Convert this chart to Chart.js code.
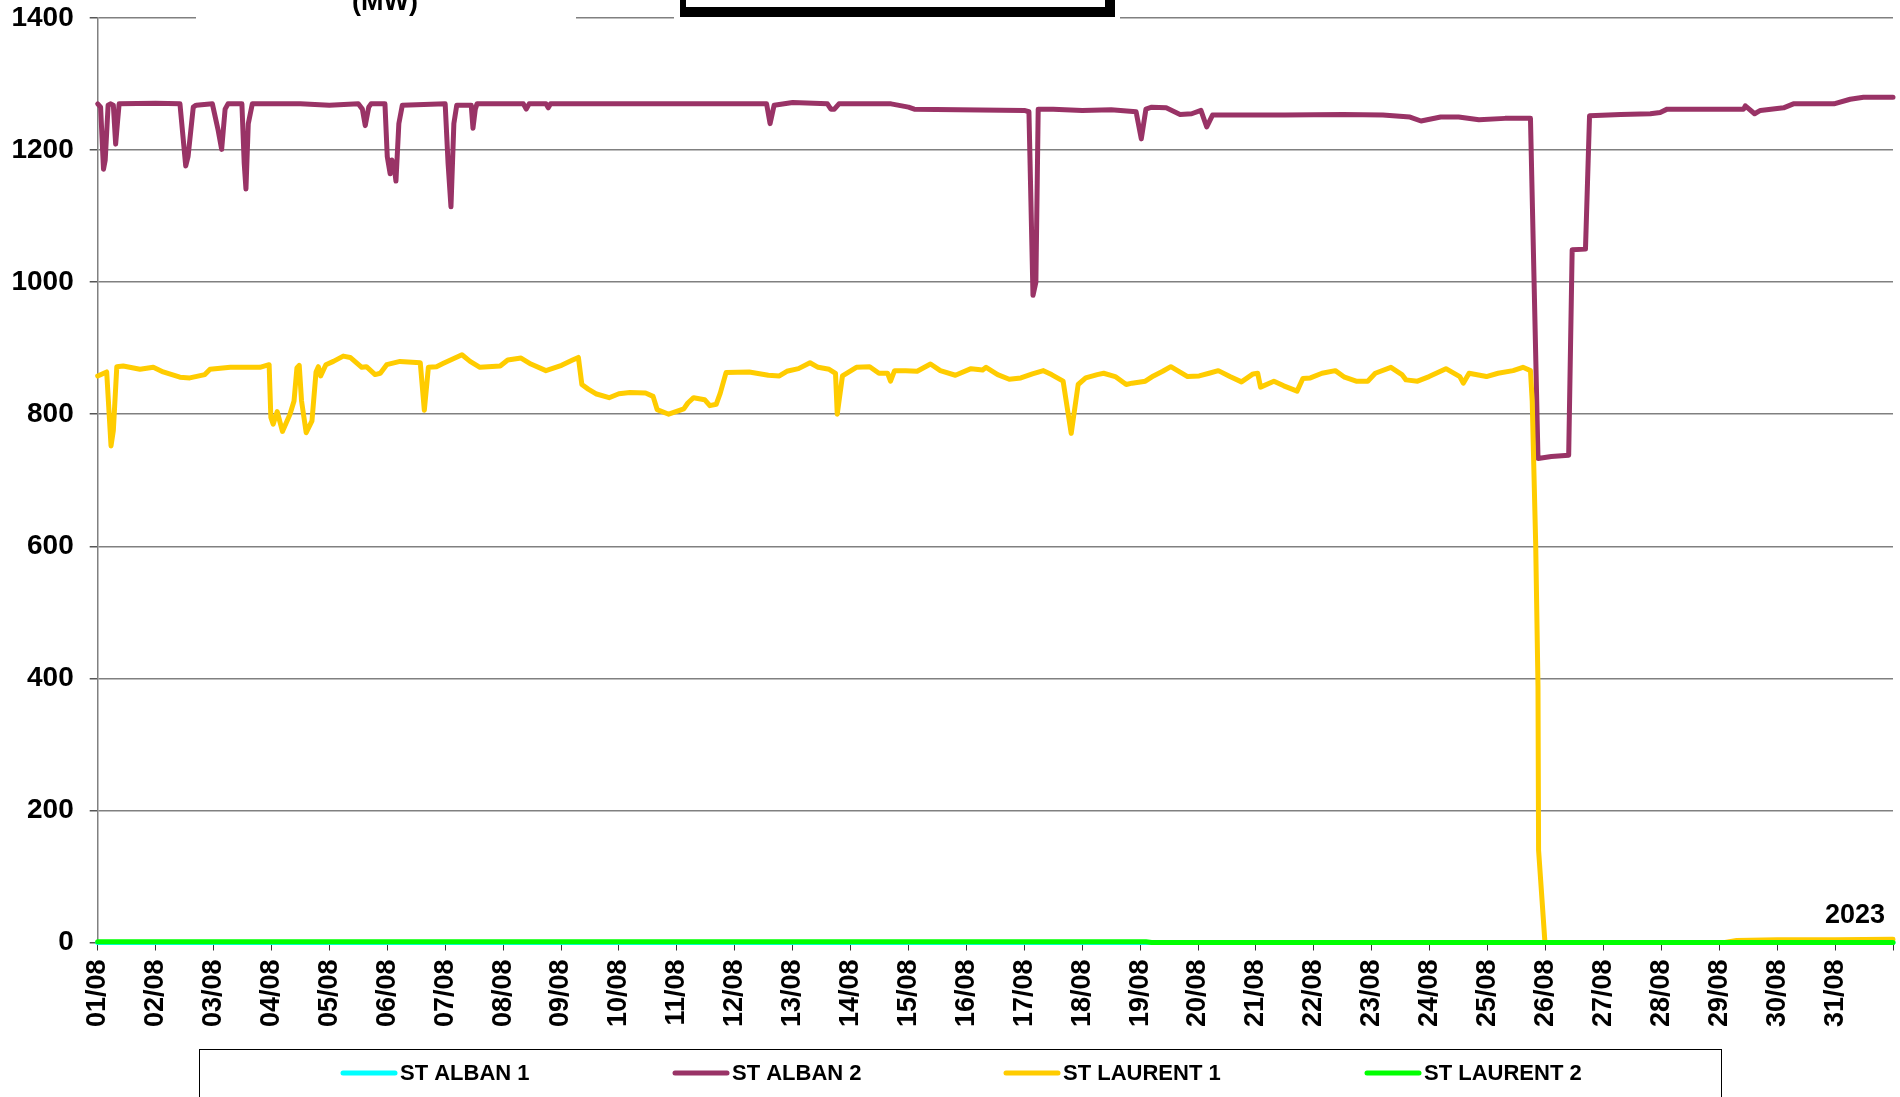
<!DOCTYPE html>
<html>
<head>
<meta charset="utf-8">
<script src="https://cdn.jsdelivr.net/npm/chart.js@4.4.1/dist/chart.umd.min.js"></script>
<style>
  body { margin: 0; background: #fff; }
  #wrap { width: 1900px; height: 1097px; position: relative; }
</style>
</head>
<body>
<div id="wrap"><canvas id="chart"></canvas></div>
<script>
// x values are days since 01/08 00:00, y values in MW
const dayLabels = [];
for (let d = 1; d <= 31; d++) dayLabels.push(String(d).padStart(2, "0") + "/08");

const alban1Days = [0, 31];
const alban1Mw = [0, 0];

const alban2Days = [0, 0.05, 0.1, 0.13, 0.18, 0.22, 0.27, 0.31, 0.34, 0.37, 1.0, 1.42, 1.52, 1.56, 1.65, 1.7, 1.98, 2.08, 2.14, 2.2, 2.25,
  2.49, 2.53, 2.56, 2.6, 2.67, 3.5, 4.0, 4.5, 4.57, 4.62, 4.68, 4.72, 4.96, 5.0, 5.05, 5.08, 5.12, 5.15, 5.2, 5.26,
  6.0, 6.05, 6.1, 6.15, 6.2, 6.45, 6.48, 6.52, 6.55, 7.35, 7.4, 7.45, 7.74, 7.78, 7.82, 11.55, 11.61, 11.68,
  12.0, 12.6, 12.66, 12.72, 12.8, 13.7, 14.0, 14.1, 16.0, 16.08, 16.15, 16.2, 16.24, 16.5, 17.0, 17.5, 17.93,
  18.02, 18.1, 18.2, 18.45, 18.69, 18.89, 19.05, 19.15, 19.25, 20.5, 21.5, 22.19, 22.66, 22.85, 23.19, 23.5,
  23.85, 24.3, 24.74, 24.87, 25.1, 25.4, 25.46, 25.69, 25.76, 26.3, 26.81, 26.98, 27.1, 28.42, 28.45, 28.61,
  28.71, 29.11, 29.28, 29.98, 30.26, 30.49, 31];
const alban2Mw = [1270, 1265, 1171, 1185, 1268, 1270, 1268, 1209, 1240, 1270, 1271, 1270, 1176, 1190, 1265, 1268, 1270, 1230, 1201, 1262, 1270,
  1270, 1180, 1141, 1240, 1270, 1270, 1268, 1270, 1262, 1237, 1265, 1270, 1270, 1190, 1164, 1185, 1175, 1153, 1240, 1268,
  1270, 1180, 1114, 1240, 1268, 1268, 1233, 1262, 1270, 1270, 1262, 1270, 1270, 1264, 1270, 1270, 1240, 1268,
  1272, 1270, 1262, 1262, 1270, 1270, 1265, 1262, 1260, 1258, 980, 1000, 1262, 1262, 1260, 1261, 1258,
  1217, 1262, 1265, 1264, 1254, 1255, 1260, 1235, 1253, 1253, 1254, 1253, 1250, 1244, 1250, 1250,
  1246, 1248, 1248, 733, 736, 738, 1049, 1050, 1252, 1254, 1255, 1257, 1262, 1262, 1267, 1255,
  1260, 1264, 1270, 1270, 1277, 1280, 1280];

const laurent1Days = [0, 0.155, 0.23, 0.27, 0.33, 0.44, 0.73, 0.96, 1.13, 1.42, 1.59, 1.85, 1.94, 2.29, 2.8, 2.96, 2.99, 3.03, 3.1, 3.19,
  3.32, 3.39, 3.44, 3.48, 3.52, 3.6, 3.7, 3.77, 3.81, 3.85, 3.94, 4.07, 4.24, 4.36, 4.56, 4.64, 4.79, 4.88, 4.99, 5.22,
  5.57, 5.64, 5.71, 5.85, 5.97, 6.14, 6.29, 6.43, 6.6, 6.95, 7.08, 7.31, 7.48, 7.74, 8.01, 8.2, 8.3, 8.36, 8.47, 8.6,
  8.83, 9.0, 9.19, 9.46, 9.59, 9.66, 9.86, 10.12, 10.19, 10.29, 10.48, 10.57, 10.68, 10.75, 10.85, 11.25, 11.58, 11.77,
  11.9, 12.1, 12.3, 12.44, 12.63, 12.74, 12.77, 12.86, 13.1, 13.33, 13.49, 13.64, 13.69, 13.76, 13.95, 14.15, 14.38,
  14.55, 14.81, 15.08, 15.28, 15.34, 15.54, 15.74, 15.94, 16.14, 16.33, 16.47, 16.67, 16.81, 16.93, 17.06, 17.26,
  17.37, 17.57, 17.76, 17.86, 18.09, 18.23, 18.39, 18.53, 18.82, 19.02, 19.19, 19.35, 19.55, 19.75, 19.95, 20.03,
  20.08, 20.31, 20.48, 20.71, 20.81, 20.94, 21.14, 21.37, 21.53, 21.73, 21.93, 22.06, 22.33, 22.52, 22.59, 22.79,
  22.99, 23.28, 23.52, 23.58, 23.68, 23.98, 24.18, 24.44, 24.61, 24.74, 24.77, 24.83, 24.87, 24.88, 24.94, 24.99,
  28.1, 28.3, 29.0, 30.0, 31];
const laurent1Mw = [858, 864, 752, 775, 872, 873, 868, 871, 864, 856, 855, 860, 868, 871, 871, 875, 795, 785, 804, 774,
  800, 820, 870, 874, 820, 772, 790, 864, 872, 858, 875, 880, 888, 886, 871, 872, 860, 862, 875, 880,
  878, 806, 871, 872, 877, 884, 890, 880, 871, 873, 882, 885, 876, 866, 874, 882, 886, 845, 838, 831,
  825, 831, 833, 832, 827, 807, 800, 808, 817, 825, 822, 813, 815, 832, 863, 864, 859, 858,
  865, 869, 878, 871, 868, 862, 800, 858, 871, 872, 862, 862, 850, 866, 866, 865, 876,
  866, 859, 869, 867, 871, 860, 853, 855, 861, 866, 860, 850, 771, 845, 855, 860,
  862, 857, 845, 847, 850, 858, 865, 872, 857, 858, 862, 866, 857, 849, 861, 862,
  841, 850, 843, 835, 854, 855, 862, 866, 856, 850, 850, 862, 871, 860, 852, 850,
  857, 869, 857, 847, 862, 857, 862, 866, 871, 866, 820, 604, 388, 140, 64, 0,
  0, 3, 4, 4, 5];

const laurent2Days = [0, 18.1, 18.2, 31];
const laurent2Mw = [1, 1, 0, 0];

function points(days, mw) {
  return days.map((d, i) => ({ x: d, y: mw[i] }));
}

const FONT = "'Liberation Sans', Arial, sans-serif";

// title remnants, year tag and boxed legend
const decorations = {
  id: "decorations",
  afterDraw(c) {
    const ctx = c.ctx;
    ctx.save();
    // title box cut at the top of the picture
    ctx.fillStyle = "#fff";
    ctx.fillRect(196, 0, 380, 23);
    ctx.fillRect(674, 0, 446, 23);
    ctx.fillStyle = "#000";
    ctx.fillRect(680, 0, 435, 17);
    ctx.fillStyle = "#fff";
    ctx.fillRect(686, 0, 419, 7);
    ctx.fillStyle = "#000";
    ctx.font = "bold 27px " + FONT;
    ctx.textAlign = "center";
    ctx.textBaseline = "alphabetic";
    ctx.fillText("(MW)", 385, 10);

    ctx.textAlign = "right";
    ctx.textBaseline = "middle";
    ctx.fillText("2023", 1885, 916);

    // legend
    ctx.strokeStyle = "#000";
    ctx.lineWidth = 1;
    ctx.strokeRect(199.5, 1049.5, 1522, 80);
    const lineX = [343, 675, 1006, 1367];
    ctx.font = "bold 22px " + FONT;
    ctx.textAlign = "left";
    c.data.datasets.forEach((ds, i) => {
      ctx.strokeStyle = ds.borderColor;
      ctx.lineWidth = 5;
      ctx.lineCap = "round";
      ctx.beginPath();
      ctx.moveTo(lineX[i], 1073);
      ctx.lineTo(lineX[i] + 52, 1073);
      ctx.stroke();
      ctx.fillStyle = "#000";
      ctx.fillText(ds.label, lineX[i] + 57, 1074);
    });
    ctx.restore();
  }
};

// order: lower value is drawn on top, so the last series ends up uppermost like in Excel
new Chart(document.querySelector("#chart"), {
  type: "line",
  data: {
    datasets: [
      { label: "ST ALBAN 1", data: points(alban1Days, alban1Mw), borderColor: "#00FFFF", order: 3 },
      { label: "ST ALBAN 2", data: points(alban2Days, alban2Mw), borderColor: "#993366", order: 2 },
      { label: "ST LAURENT 1", data: points(laurent1Days, laurent1Mw), borderColor: "#FFCC00", order: 1 },
      { label: "ST LAURENT 2", data: points(laurent2Days, laurent2Mw), borderColor: "#00FF00", order: 0 }
    ]
  },
  options: {
    responsive: true,
    maintainAspectRatio: false,
    devicePixelRatio: 1,
    animation: false,
    layout: { padding: { top: 18, right: 7, left: 0, bottom: 0 } },
    datasets: { line: { clip: false } },
    elements: {
      point: { radius: 0 },
      line: { borderWidth: 5, tension: 0, borderJoinStyle: "round", borderCapStyle: "round" }
    },
    plugins: { legend: { display: false }, tooltip: { enabled: false } },
    scales: {
      x: {
        type: "linear",
        min: 0,
        max: 31,
        afterFit: (s) => { s.height = 154.5; s.paddingLeft = 0; s.paddingRight = 0; },
        ticks: {
          stepSize: 1,
          autoSkip: false,
          maxRotation: 90,
          minRotation: 90,
          padding: 9,
          color: "#000",
          font: { family: FONT, size: 27, weight: "bold" },
          callback: (v) => (v < 31 ? dayLabels[v] : "")
        },
        grid: { drawOnChartArea: false, drawTicks: true, tickLength: 8, tickColor: "#333" },
        border: { color: "#808080", width: 1.5 }
      },
      y: {
        min: 0,
        max: 1400,
        afterFit: (s) => { s.width = 97.7; s.paddingTop = 0; s.paddingBottom = 0; },
        ticks: {
          stepSize: 200,
          padding: 16,
          color: "#000",
          font: { family: FONT, size: 28, weight: "bold" },
          callback: (v) => String(v)
        },
        grid: { color: "#808080", lineWidth: 1.5, tickLength: 8, tickColor: "#555" },
        border: { color: "#808080", width: 1.5 }
      }
    }
  },
  plugins: [decorations]
});
</script>
</body>
</html>
